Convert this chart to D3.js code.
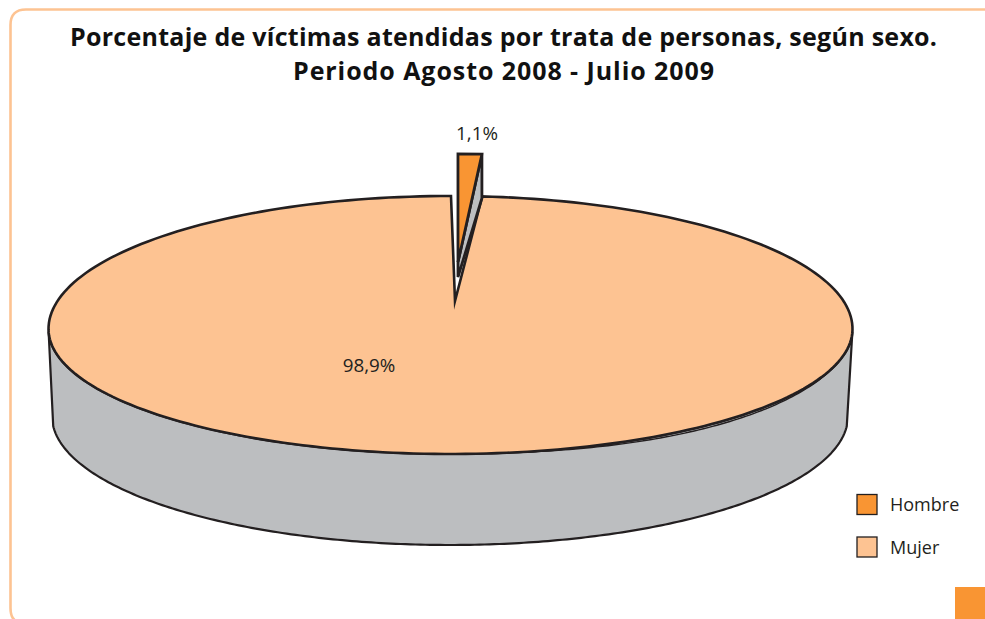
<!DOCTYPE html>
<html><head><meta charset="utf-8">
<script src="https://cdn.jsdelivr.net/npm/d3@7/dist/d3.min.js"></script>
<style>html,body{margin:0;padding:0;background:#fff}svg{display:block}</style>
</head><body><div id="c"></div>
<script>
const titleLines = ["Porcentaje de víctimas atendidas por trata de personas, según sexo.", "Periodo Agosto 2008 - Julio 2009"];
const categories = ["Hombre", "Mujer"];
const values = [1.1, 98.9];
const valueLabels = ["1,1%", "98,9%"];
const colors = ["#f99533", "#fdc392"];
const W = 985, H = 619;
const ink = "#231f20", sideFill = "#bcbec0";
const svg = d3.select("#c").append("svg").attr("width", W).attr("height", H);

// frame
svg.append("path").attr("d", "M990,9.5H26Q10.5,9.5 10.5,25V608Q10.5,618 16,621")
  .attr("fill", "none").attr("stroke", "#fdc392").attr("stroke-width", 2.6);
svg.append("rect").attr("x", 955).attr("y", 587).attr("width", 30).attr("height", 32).attr("fill", "#f99533");

// title
const titleWidths = [867, 421];
svg.append("g").selectAll("text").data(titleLines).join("text")
  .attr("x", 503.5).attr("y", (d, i) => 46 + i * 34)
  .attr("text-anchor", "middle").attr("font-family", "'Open Sans'").attr("font-weight", "bold")
  .attr("font-size", 25).attr("textLength", (d, i) => titleWidths[i]).attr("lengthAdjust", "spacing")
  .attr("fill", "#111").text(d => d);

// pie geometry
const rad = Math.PI / 180;
const pie = d3.pie().sort(null).startAngle(0.07 * rad).endAngle(360.07 * rad).padAngle(0.5 * rad);
const arcs = pie(values);
const topE = {cx: 450.5, cy: 329, rx: 402, ryBack: 133, ryFront: 125};
const baseE = {cx: 450, cy: 416, rx: 398, ryBack: 129, ryFront: 129};
const apex = {x: 455, y: 301};
const pt = (e, a) => {
  const c = Math.cos(a);
  return [e.cx + e.rx * Math.sin(a), e.cy - (c > 0 ? e.ryBack : e.ryFront) * c];
};
const span = (a0, a1, n = 240) => d3.range(n + 1).map(i => a0 + (a1 - a0) * i / n);
const line = d3.line();

// cylinder wall
const wallTop = span(91.5 * rad, 268.5 * rad).map(a => pt(topE, a));
const wallBase = span(265.5 * rad, 94.5 * rad).map(a => pt(baseE, a));
svg.append("path").attr("d", line(wallTop.concat(wallBase)) + "Z")
  .attr("fill", sideFill).attr("stroke", ink).attr("stroke-width", 2.2).attr("stroke-linejoin", "round");

// second edge line just under the rim, lower right
const a0 = 105 * rad, a1 = 172 * rad;
const edgePts = span(a0, a1, 80).map(a => {
  const p = pt(topE, a);
  return [p[0], p[1] + 2.6 * Math.sin(Math.PI * (a - a0) / (a1 - a0))];
});
svg.append("path").attr("d", line(edgePts)).attr("fill", "none").attr("stroke", ink).attr("stroke-width", 1.4);

// Mujer slice
const m = arcs[1];
const mPts = [[apex.x, apex.y]].concat(span(m.startAngle, m.endAngle).map(a => pt(topE, a)));
svg.append("path").attr("d", line(mPts) + "Z")
  .attr("fill", colors[1]).attr("stroke", ink).attr("stroke-width", 2.6).attr("stroke-linejoin", "miter").attr("stroke-miterlimit", 20);

// Hombre exploded slice
const h = arcs[0];
const piece = {cx: 454.5, cy: 214, rx: 348, ryBack: 60, ryFront: 60};
const hA = [458, 262], hB = pt(piece, h.startAngle + h.padAngle), hC = pt(piece, h.endAngle);
const depthRim = 44, depthTip = 15;
svg.append("path").attr("d", line([hC, [hC[0], hC[1] + depthRim], [hA[0], hA[1] + depthTip], hA]) + "Z")
  .attr("fill", sideFill).attr("stroke", ink).attr("stroke-width", 2.8).attr("stroke-linejoin", "miter");
svg.append("path").attr("d", line([hA, hB, hC]) + "Z")
  .attr("fill", colors[0]).attr("stroke", ink).attr("stroke-width", 2.8).attr("stroke-linejoin", "miter");

// value labels
const labelPos = [[477, 140], [369, 372]];
svg.append("g").selectAll("text").data(valueLabels).join("text")
  .attr("x", (d, i) => labelPos[i][0]).attr("y", (d, i) => labelPos[i][1])
  .attr("text-anchor", "middle").attr("font-family", "'Open Sans'").attr("font-size", 18.8).attr("fill", ink).text(d => d);

// legend
const lg = svg.append("g").selectAll("g").data(categories).join("g")
  .attr("transform", (d, i) => `translate(857,${494.5 + i * 42.5})`);
lg.append("rect").attr("width", 20).attr("height", 20).attr("fill", (d, i) => colors[i])
  .attr("stroke", ink).attr("stroke-width", 1.3);
lg.append("text").attr("x", 33).attr("y", 16.5).attr("font-family", "'Open Sans'").attr("font-size", 18).attr("fill", ink).text(d => d);
</script></body></html>
